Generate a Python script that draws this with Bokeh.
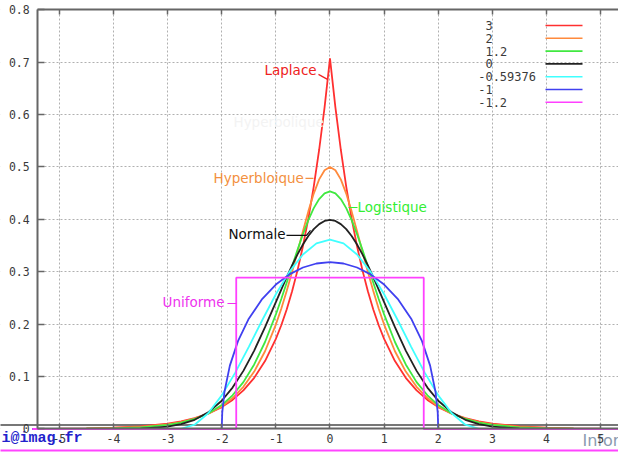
from bokeh.plotting import figure
from bokeh.models import Range1d, FixedTicker, LinearAxis
from bokeh.core.properties import value
from bokeh.embed import file_html
from bokeh.resources import INLINE

# ---- data (half curves for x >= 0; the densities are symmetric) ----
GRID_X = [0, 0.1, 0.2, 0.3, 0.4, 0.5, 0.6, 0.7, 0.8, 0.9, 1.0, 1.2, 1.4, 1.6,
          1.8, 2.0, 2.25, 2.5, 2.75, 3.0, 3.5, 4.0, 4.5, 5.0, 5.5]
LAPLACE_Y = [0.7071, 0.6138, 0.5329, 0.4626, 0.4016, 0.3487, 0.3027, 0.2628,
             0.2281, 0.1980, 0.1719, 0.1296, 0.0976, 0.0736, 0.0555, 0.0418,
             0.0293, 0.0206, 0.0145, 0.0102, 0.0050, 0.0025, 0.0012, 0.0006, 0.0003]
SECH_Y = [0.5000, 0.4939, 0.4763, 0.4492, 0.4153, 0.3775, 0.3383, 0.2998,
          0.2633, 0.2296, 0.1993, 0.1484, 0.1096, 0.0805, 0.0590, 0.0431,
          0.0292, 0.0197, 0.0133, 0.0090, 0.0041, 0.0019, 0.0009, 0.0004, 0.0002]
LOGIST_Y = [0.4534, 0.4497, 0.4388, 0.4215, 0.3987, 0.3717, 0.3418, 0.3106,
            0.2790, 0.2481, 0.2186, 0.1660, 0.1232, 0.0895, 0.0643, 0.0457,
            0.0296, 0.0191, 0.0122, 0.0078, 0.0032, 0.0013, 0.0005, 0.0002, 0.0001]
NORMAL_Y = [0.3989, 0.3970, 0.3910, 0.3814, 0.3683, 0.3521, 0.3332, 0.3123,
            0.2897, 0.2661, 0.2420, 0.1942, 0.1497, 0.1109, 0.0790, 0.0540,
            0.0317, 0.0175, 0.0091, 0.0044, 0.0009, 0.0001, 0.0, 0.0, 0.0]
RCOS_X = [0, 0.25, 0.5, 0.75, 1.0, 1.25, 1.5, 1.75, 2.0, 2.25, 2.5, 2.766, 5.5]
RCOS_Y = [0.3615, 0.3543, 0.3331, 0.2998, 0.2571, 0.2080, 0.1568, 0.1076,
          0.0642, 0.0301, 0.0082, 0.0, 0.0]
SEMI_X = [0, 0.25, 0.5, 0.75, 1.0, 1.25, 1.5, 1.7, 1.85, 1.95, 1.99, 2.0, 2.0, 5.5]
SEMI_Y = [0.3183, 0.3158, 0.3082, 0.2951, 0.2757, 0.2485, 0.2105, 0.1677,
          0.1209, 0.0707, 0.0318, 0.0, 0.0, 0.0]
UNIF_X = [-5.5, -1.732, -1.732, 1.732, 1.732, 5.5]
UNIF_Y = [0.0, 0.0, 0.2887, 0.2887, 0.0, 0.0]

KURTOSIS = ["3", "2", "1.2", "0", "-0.59376", "-1", "-1.2"]
COLORS = ["#ff3030", "#ff8a3c", "#40e840", "#222222", "#40ffff", "#4040f0", "#ff40ff"]

X_TICKS = [-5, -4, -3, -2, -1, 0, 1, 2, 3, 4, 5]
X_TICK_LABELS = ["-5", "-4", "-3", "-2", "-1", "0", "1", "2", "3", "4", "5"]
Y_TICKS = [0, 0.1, 0.2, 0.3, 0.4, 0.5, 0.6, 0.7, 0.8]
Y_TICK_LABELS = ["0", "0.1", "0.2", "0.3", "0.4", "0.5", "0.6", "0.7", "0.8"]
X_MIN, X_MAX, Y_MIN, Y_MAX = -5.4, 5.4, 0.0, 0.8

NAMES = ["Laplace", "Hyperbloique", "Logistique", "Normale", "Uniforme"]
NAME_COLORS = ["#ee2222", "#f39040", "#33ee33", "#111111", "#ee33ee"]


def mirror(xh, yh):
    xs = [-v for v in xh[:0:-1]] + list(xh)
    ys = list(yh[:0:-1]) + list(yh)
    return xs, ys


# the frame covers the whole canvas; axes are pinned inside it
p = figure(width=618, height=452, x_range=Range1d(-6.087, 5.330),
           y_range=Range1d(-0.04485, 0.8177),
           output_backend="svg", toolbar_location=None, min_border=0)
p.outline_line_color = None
p.background_fill_color = "white"
p.border_fill_color = "white"

AX_COLOR = "#666666"
TXT_COLOR = "#3a3a3a"


def style_axis(ax, tick_in):
    ax.axis_line_color = AX_COLOR
    ax.axis_line_width = 2
    ax.major_tick_line_color = AX_COLOR
    ax.major_tick_line_width = 1.5
    ax.major_tick_in = tick_in
    ax.major_tick_out = 0
    ax.minor_tick_out = 0
    ax.minor_tick_in = 0
    ax.major_label_text_font = "DejaVu Sans Mono"
    ax.major_label_text_font_size = "11.5px"
    ax.major_label_text_color = TXT_COLOR


xa = p.xaxis[0]
style_axis(xa, 5)
xa.fixed_location = Y_MIN
xa.bounds = (X_MIN, X_MAX)
xa.ticker = FixedTicker(ticks=X_TICKS)
xa.major_label_overrides = dict(zip(X_TICKS, X_TICK_LABELS))
xa.major_label_standoff = 5

ya = p.yaxis[0]
style_axis(ya, 7)
ya.fixed_location = X_MIN
ya.bounds = (Y_MIN, Y_MAX)
ya.ticker = FixedTicker(ticks=Y_TICKS)
ya.major_label_overrides = dict(zip(Y_TICKS, Y_TICK_LABELS))
ya.major_label_standoff = 8

top = LinearAxis(ticker=FixedTicker(ticks=X_TICKS), fixed_location=Y_MAX, bounds=(X_MIN, X_MAX),
                 major_label_overrides={t: "" for t in X_TICKS})
style_axis(top, 5)
p.add_layout(top, "above")

for g, t in ((p.xgrid[0], X_TICKS), (p.ygrid[0], Y_TICKS)):
    g.ticker = FixedTicker(ticks=t)
    g.grid_line_color = "#b0b0b0"
    g.grid_line_dash = "2 2"
    g.grid_line_width = 1

# white masks so that the grid stays inside the plotting box
XL, XR, YB, YT = -6.2, 5.5, -0.06, 0.83
p.quad(left=[XL, XL, XL], right=[XR, X_MIN, XR], bottom=[YB, YB, Y_MAX], top=[Y_MIN, YT, YT],
       fill_color="white", line_color=None)

# stray lines of the cropped original picture
p.quad(left=[XL], right=[XR], bottom=[0.0057], top=[0.0095], fill_color="#777777", line_color=None)
p.quad(left=[XL], right=[XR], bottom=[-0.0429], top=[-0.0391], fill_color="#ff44ff", line_color=None)

# curves
curves = [mirror(GRID_X, LAPLACE_Y), mirror(GRID_X, SECH_Y), mirror(GRID_X, LOGIST_Y),
          mirror(GRID_X, NORMAL_Y), mirror(RCOS_X, RCOS_Y), mirror(SEMI_X, SEMI_Y),
          (UNIF_X, UNIF_Y)]
for (xs, ys), c in zip(curves, COLORS):
    p.line(xs, ys, line_color=c, line_width=1.8)

# ghost text that erases part of the Laplace line
p.text(x=[-1.783], y=[0.585], text=["Hyperbolique"], text_color="#f3f3f3",
       text_font=value("DejaVu Sans"), text_font_size="13.5px", text_baseline="middle")

# curve names with leader lines
NAME_X = [-1.21, -2.152, 0.508, -1.875, -3.094]
NAME_Y = [0.686, 0.4781, 0.4227, 0.3712, 0.2414]
p.text(x=NAME_X, y=NAME_Y, text=NAMES, text_color=NAME_COLORS,
       text_font=value("DejaVu Sans"), text_font_size="13.5px", text_baseline="middle")
LEAD_XS = [[-0.213, -0.046], [-0.453, -0.305], [0.342, 0.508],
           [-0.804, -0.434, -0.36], [-1.894, -1.727]]
LEAD_YS = [[0.6767, 0.6672], [0.4781, 0.4781], [0.4227, 0.4227],
           [0.3693, 0.3693, 0.3788], [0.2395, 0.2395]]
p.multi_line(LEAD_XS, LEAD_YS, line_color=NAME_COLORS, line_width=1.2)

# key: label on the left, sample line on the right
LEG_X, LEG_SIGN, LEG_Y0, LEG_DY = 2.873, 0.135, 0.770, 0.02443
LEG_L0, LEG_L1 = 3.981, 4.665
leg_x = [LEG_X - (LEG_SIGN if k.startswith("-") else 0) for k in KURTOSIS]
leg_y = [LEG_Y0 - i * LEG_DY for i in range(len(KURTOSIS))]
p.text(x=leg_x, y=leg_y, text=KURTOSIS, text_color=TXT_COLOR,
       text_font=value("DejaVu Sans Mono"), text_font_size="12px", text_baseline="middle")
p.segment(x0=[LEG_L0] * len(KURTOSIS), x1=[LEG_L1] * len(KURTOSIS), y0=leg_y, y1=leg_y,
          line_color=COLORS, line_width=1.6)

# bits of text cut by the crop of the original picture
p.text(x=[-4.572], y=[-0.0353], text=["i@imag.fr"], text_align="right",
       text_font=value("Liberation Mono"), text_font_style="bold",
       text_font_size="15px", text_color="#2222cc")
p.text(x=[4.665], y=[-0.0410], text=["Infor"], text_font=value("DejaVu Sans"),
       text_font_size="16px", text_color="#8a9ab0")

open("out.html", "w").write(file_html(p, INLINE))
